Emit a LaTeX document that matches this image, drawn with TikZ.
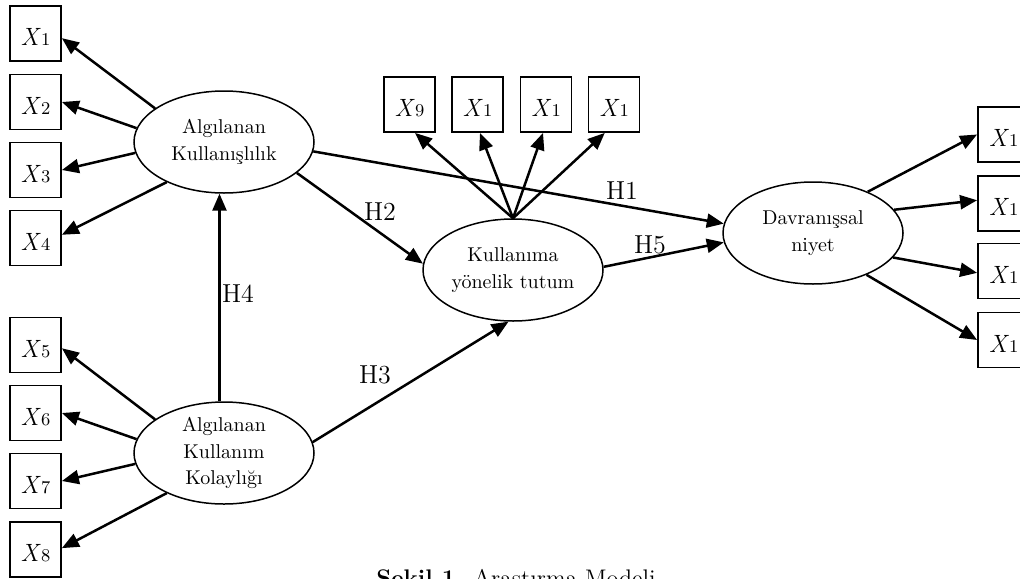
\documentclass[tikz,border=0pt]{standalone}
\usetikzlibrary{shapes.geometric,arrows.meta}
\newcommand\xlab[1]{\textit{X}{\fontsize{9}{10}\selectfont #1}}
\begin{document}
\begin{tikzpicture}[x=0.5pt,y=-0.5pt,
  box/.style={draw,line width=0.9pt,minimum width=25.5pt,minimum height=27.5pt,inner sep=0pt,text height=12pt,text depth=0pt,font=\fontsize{12.5}{14}\selectfont},
  lat/.style={draw,ellipse,line width=0.75pt,minimum width=90pt,minimum height=51pt,inner sep=0pt,align=center,font=\fontsize{10}{13.4}\selectfont},
  arr/.style={line width=1.25pt,-{Triangle[length=8.5pt,width=7pt]}},
  hyp/.style={font=\fontsize{13}{15}\selectfont,inner sep=0pt}
]
\useasboundingbox (0,0) rectangle (1020,578);

% latent variables
\node[lat] (ak)  at (224,142) {Algılanan\\Kullanışlılık};
\node[lat] (akk) at (224,453) {Algılanan\\Kullanım\\Kolaylığı};
\node[lat] (mid) at (513,270) {Kullanıma\\yönelik tutum};
\node[lat] (rt)  at (813,233) {Davranışsal\\niyet};

% left indicator boxes
\node[box] (x1) at (35.5,33.5) {\xlab{1}};
\node[box] (x2) at (35.5,102) {\xlab{2}};
\node[box] (x3) at (35.5,170) {\xlab{3}};
\node[box] (x4) at (35.5,238) {\xlab{4}};
\node[box] (x5) at (35.5,345) {\xlab{5}};
\node[box] (x6) at (35.5,413) {\xlab{6}};
\node[box] (x7) at (35.5,481) {\xlab{7}};
\node[box] (x8) at (35.5,549.5) {\xlab{8}};

% top indicator boxes
\node[box] (t1) at (409.5,104.5) {\xlab{9}};
\node[box] (t2) at (477.5,104.5) {\xlab{1}};
\node[box] (t3) at (546,104.5) {\xlab{1}};
\node[box] (t4) at (614,104.5) {\xlab{1}};

% right indicator boxes
\node[box] (r1) at (1003.5,134.5) {\xlab{1}};
\node[box] (r2) at (1003.5,203.5) {\xlab{1}};
\node[box] (r3) at (1003.5,271) {\xlab{1}};
\node[box] (r4) at (1003.5,340) {\xlab{1}};

% loadings
\draw[arr] (ak.154) -- (x1.-10);
\draw[arr] (ak.171) -- (x2.east);
\draw[arr] (ak.187) -- (x3.east);
\draw[arr] (ak.215) -- (x4.7);
\draw[arr] (akk.154) -- (x5.-7);
\draw[arr] (akk.171) -- (x6.east);
\draw[arr] (akk.187) -- (x7.east);
\draw[arr] (akk.215) -- (x8.3);

\draw[arr] (mid.north) -- (t1.-79);
\draw[arr] (mid.north) -- (t2.-85);
\draw[arr] (mid.north) -- (t3.-96);
\draw[arr] (mid.north) -- (t4.-108);

\draw[arr] (rt.37) -- (r1.west);
\draw[arr] (rt.16) -- (r2.173);
\draw[arr] (rt.-17) -- (r3.184);
\draw[arr] (rt.-38) -- (r4.west);

% structural paths
\draw[arr] (ak.354) -- (rt.174);
\draw[arr] (ak.337) -- (mid.176);
\draw[arr] (akk.7) -- (mid.265);
\draw[arr] (akk.95) -- (ak.265);
\draw[arr] (mid.2) -- (rt.186);

% hypothesis labels
\node[hyp] (h1) at (622,191) {H1};
\node[hyp] (h2) at (380,212) {H2};
\node[hyp] (h3) at (375,375) {H3};
\node[hyp] (h4) at (238,294) {H4};
\node[hyp] (h5) at (650,245) {H5};

% caption (cut by the lower edge, as in the reference)
\node[anchor=base,inner sep=0pt,font=\fontsize{12}{14}\selectfont] (cap) at (516,586) {\textbf{Şekil 1.} Araştırma Modeli};
\end{tikzpicture}
\end{document}
